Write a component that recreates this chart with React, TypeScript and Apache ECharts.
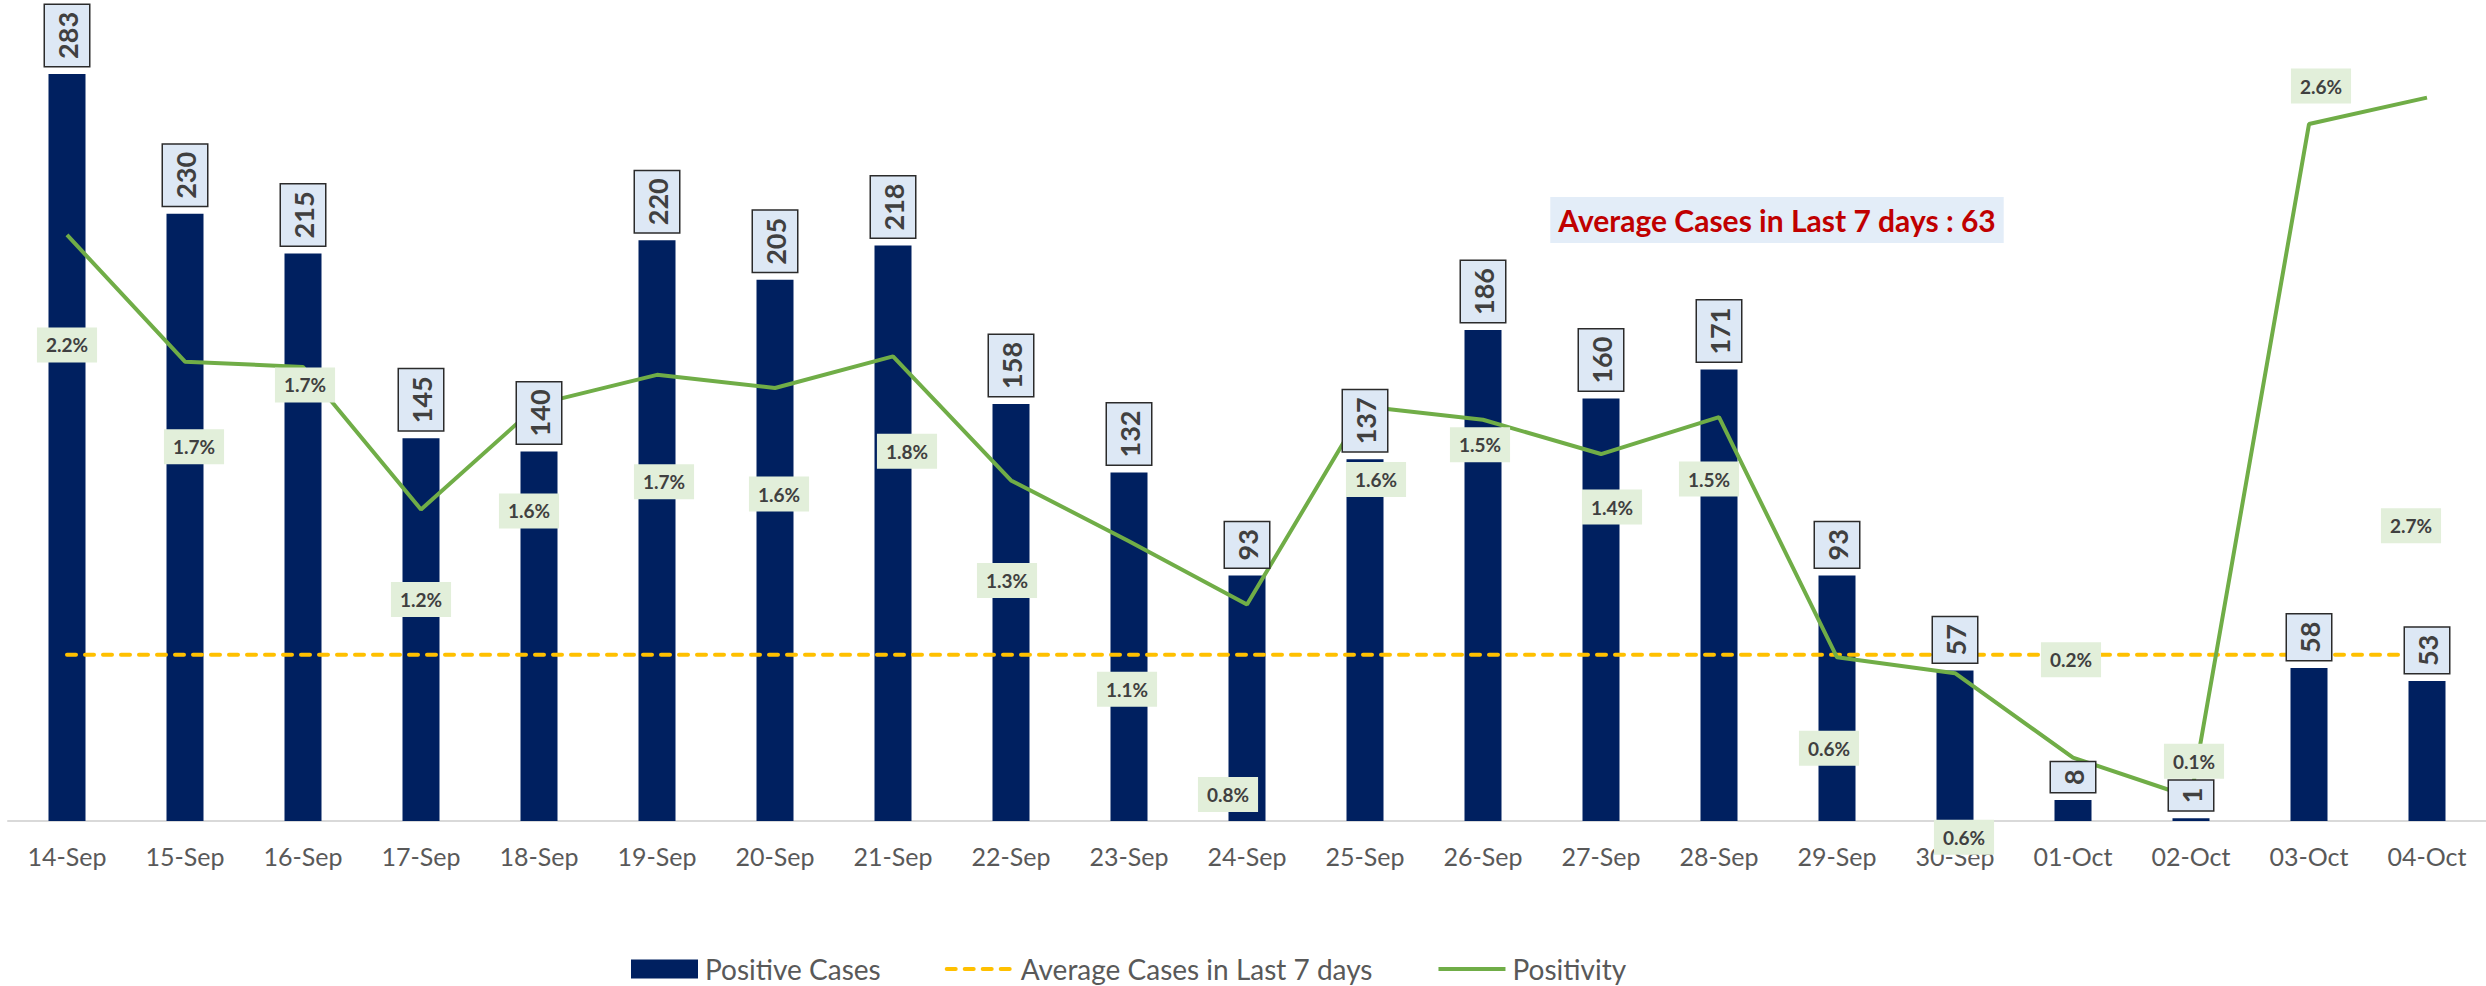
import React, { useEffect, useRef } from "react";
import * as echarts from "echarts";

const categories = [
  "14-Sep", "15-Sep", "16-Sep", "17-Sep", "18-Sep", "19-Sep", "20-Sep",
  "21-Sep", "22-Sep", "23-Sep", "24-Sep", "25-Sep", "26-Sep", "27-Sep",
  "28-Sep", "29-Sep", "30-Sep", "01-Oct", "02-Oct", "03-Oct", "04-Oct",
];
const positiveCases = [283, 230, 215, 145, 140, 220, 205, 218, 158, 132, 93, 137, 186, 160, 171, 93, 57, 8, 1, 58, 53];
const averageCasesLast7Days = 63;
// positivity in percent
const positivity = [2.22, 1.74, 1.72, 1.18, 1.58, 1.69, 1.64, 1.76, 1.29, 1.06, 0.82, 1.57, 1.52, 1.39, 1.53, 0.62, 0.56, 0.24, 0.09, 2.64, 2.74];
// label placement (px offsets from each point), as placed in the source chart
const positivityLabelOffsets = [
  [0, 110], [9, 85], [2, 18], [0, 90], [-10, 107], [7, 107], [4, 106],
  [14, 95], [-4, 100], [-2, 148], [-19, 190], [11, 73], [-3, 25], [11, 53],
  [-10, 62], [-8, 91], [9, 164], [-2, -98], [3, -36], [12, -38], [-16, 428],
];

const FONT = "Lato";

export default function App() {
  const ref = useRef<HTMLDivElement>(null);
  useEffect(() => {
    if (!ref.current) return;
    const chart = echarts.init(ref.current, null, { renderer: "svg" });
    chart.setOption({
      animation: false,
      backgroundColor: "#ffffff",
      grid: { left: 8, top: 29, width: 2480, height: 792, containLabel: false },
      legend: {
        left: 631,
        top: 955,
        padding: 0,
        itemWidth: 67,
        itemHeight: 19,
        itemGap: 64,
        lineStyle: { width: 4 },
        textStyle: { fontFamily: FONT, fontSize: 28, lineHeight: 24, color: "#595959", padding: [0, 0, 0, 2] },
        data: [
          { name: "Positive Cases", icon: "rect" },
          { name: "Average Cases in Last 7 days", itemStyle: { opacity: 0 } },
          { name: "Positivity", itemStyle: { opacity: 0 } },
        ],
      },
      xAxis: {
        type: "category",
        data: categories,
        axisLine: { show: true, lineStyle: { color: "#D9D9D9", width: 2 } },
        axisTick: { show: false },
        axisLabel: { fontFamily: FONT, fontSize: 25, color: "#595959", margin: 22, interval: 0 },
      },
      yAxis: [
        { type: "value", min: 0, max: 300, show: false, splitLine: { show: false } },
        { type: "value", min: 0, max: 3, show: false, splitLine: { show: false } },
      ],
      graphic: [
        {
          type: "text",
          x: 1777,
          y: 220,
          z: 100,
          style: {
            text: "Average Cases in Last 7 days : 63",
            fontFamily: FONT,
            fontWeight: "bold",
            fontSize: 30,
            fill: "#C00000",
            align: "center",
            verticalAlign: "middle",
            backgroundColor: "#E3EDF8",
            padding: [8, 8],
          },
        },
      ],
      series: [
        {
          name: "Positive Cases",
          type: "bar",
          data: positiveCases,
          barWidth: 37,
          itemStyle: { color: "#002060" },
          z: 2,
        },
        {
          name: "casesLabels",
          type: "bar",
          data: positiveCases,
          barWidth: 37,
          barGap: "-100%",
          itemStyle: { color: "rgba(0,0,0,0)" },
          silent: true,
          z: 6,
          label: {
            show: true,
            position: "top",
            distance: 8,
            rotate: 90,
            align: "left",
            verticalAlign: "middle",
            fontFamily: FONT,
            fontWeight: "bold",
            fontSize: 27,
            lineHeight: 28,
            color: "#404040",
            backgroundColor: "#DDE8F5",
            borderColor: "#2b2b2b",
            borderWidth: 1.5,
            padding: [8, 7],
          },
        },
        {
          name: "Average Cases in Last 7 days",
          type: "line",
          data: categories.map(() => averageCasesLast7Days),
          symbol: "none",
          lineStyle: { color: "#FFC000", width: 4, type: [9, 9], cap: "round" },
          itemStyle: { color: "#FFC000" },
          z: 3,
        },
        {
          name: "Positivity",
          type: "line",
          yAxisIndex: 1,
          data: positivity,
          symbol: "none",
          lineStyle: { color: "#70AD47", width: 4 },
          itemStyle: { color: "#70AD47" },
          z: 4,
        },
        {
          name: "positivityLabels",
          type: "line",
          yAxisIndex: 1,
          data: positivity.map((v, i) => ({
            value: v,
            label: { offset: positivityLabelOffsets[i] },
          })),
          symbol: "circle",
          symbolSize: 2,
          lineStyle: { width: 0, opacity: 0 },
          itemStyle: { color: "rgba(0,0,0,0)" },
          silent: true,
          z: 7,
          label: {
            show: true,
            position: "inside",
            formatter: (p: any) => p.value.toFixed(1) + "%",
            fontFamily: FONT,
            fontWeight: "bold",
            fontSize: 19,
            lineHeight: 21,
            color: "#404040",
            backgroundColor: "#E2EFDA",
            padding: [7, 9],
          },
        },
      ],
    });
    return () => chart.dispose();
  }, []);
  return (
    <div
      ref={ref}
      style={{ position: "absolute", left: 0, top: 0, width: 2486, height: 986 }}
    />
  );
}
